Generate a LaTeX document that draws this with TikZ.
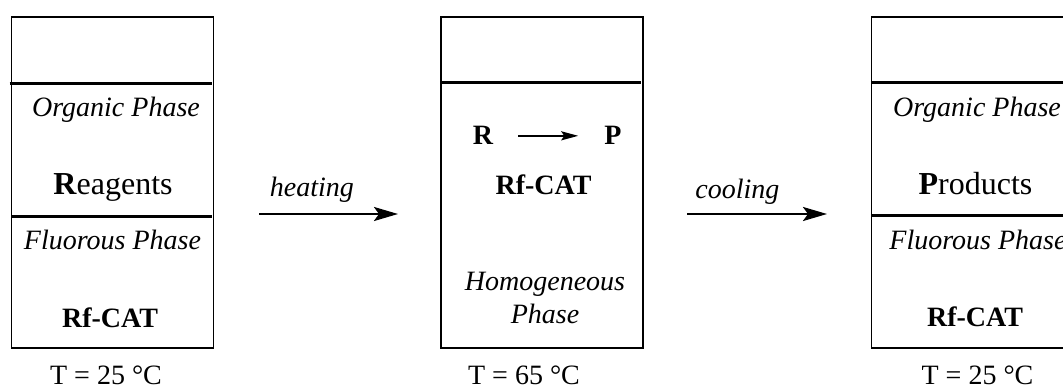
\documentclass[tikz,border=0pt]{standalone}
\usepackage{fontspec}
\setmainfont{Liberation Serif}
\usetikzlibrary{arrows.meta,positioning}

\begin{document}
\begin{tikzpicture}[
  x=1pt, y=-1pt,
  beaker/.style={draw, line width=1.4pt, minimum width=202pt, minimum height=331pt, inner sep=0pt},
  layer/.style={line width=3pt},
  txt/.style={anchor=base, inner sep=0pt, font=\fontsize{28}{33}\selectfont},
  phase/.style={txt, font=\fontsize{28}{33}\selectfont\itshape},
  cat/.style={txt, font=\fontsize{28}{33}\selectfont\bfseries},
  big/.style={txt, font=\fontsize{32}{36}\selectfont},
  flow/.style={-{Stealth[length=24pt,width=14pt,inset=5pt]}, line width=2.5pt},
  rxn/.style={-{Stealth[length=17pt,width=9pt,inset=3pt]}, line width=2pt}
]
\useasboundingbox (0,0) rectangle (1063,390);
% beakers
\node[beaker] (reac) at (112.75,182.5) {};
\node[beaker, right=226pt of reac] (homo) {};
\node[beaker, right=227pt of homo] (prod) {};
\draw[layer] ([xshift=-1.5pt]reac.west |- 0,83.5) -- ([xshift=-2pt]reac.east |- 0,83.5);
\draw[layer] (reac.west |- 0,216.5) -- ([xshift=-2pt]reac.east |- 0,216.5);
\draw[layer] (homo.west |- 0,83) -- ([xshift=-3pt]homo.east |- 0,83);
\draw[layer] (prod.west |- 0,83) -- (prod.east |- 0,83);
\draw[layer] (prod.west |- 0,215.5) -- (prod.east |- 0,215.5);
% left beaker
\node[phase] (org1) at (116,117) {Organic Phase};
\node[big] (reagents) at (113,195) {\textbf{R}eagents};
\node[phase] (fluo1) at (112.5,250) {Fluorous Phase};
\node[cat] (cat1) at (110,327) {Rf-CAT};
\node[txt] (t1) at (106,384) {T = 25 °C};
% middle beaker
\node[cat] (r) at (483,145) {R};
\node[cat] (p) at (613,145) {P};
\draw[rxn, shorten <=25pt, shorten >=26pt] (r) -- (p);
\node[cat] (cat2) at (543.5,195) {Rf-CAT};
\node[phase, align=center] (hom) at (545,323) {Homogeneous\\Phase};
\node[txt] (t2) at (524,384) {T = 65 °C};
% right beaker
\node[phase] (org3) at (977,117) {Organic Phase};
\node[big] (products) at (975.5,195) {\textbf{P}roducts};
\node[phase] (fluo3) at (978,250) {Fluorous Phase};
\node[cat] (cat3) at (975,326) {Rf-CAT};
\node[txt] (t3) at (977.5,384) {T = 25 °C};
% steps
\coordinate (h1) at (259,214);
\coordinate (h2) at (398,214);
\coordinate (c1) at (687,214);
\coordinate (c2) at (827,214);
\draw[flow] (h1) -- node[phase, pos=.38, yshift=17pt] (heat) {heating} (h2);
\draw[flow] (c1) -- node[phase, pos=.36, yshift=15pt] (cool) {cooling} (c2);
\end{tikzpicture}
\end{document}
